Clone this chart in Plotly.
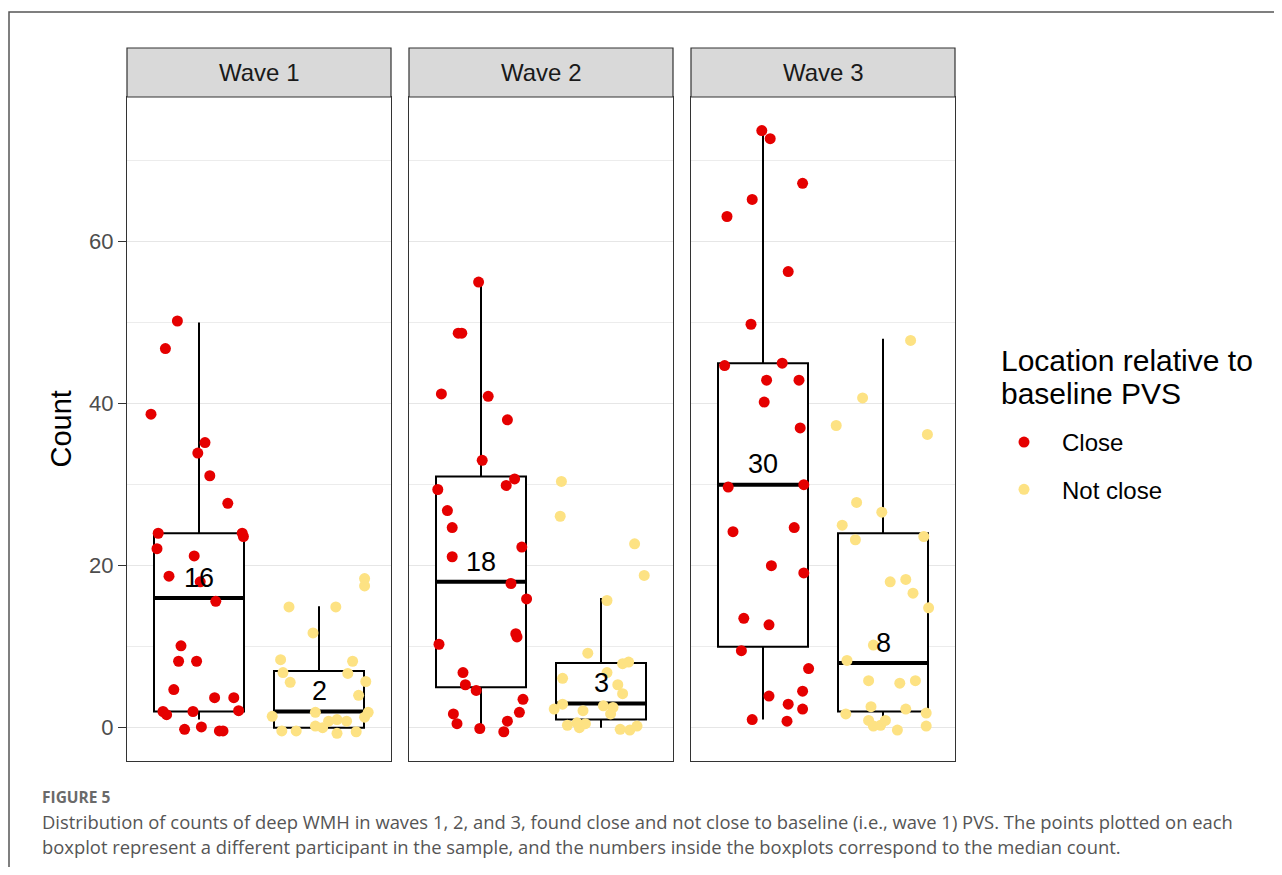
import plotly.graph_objects as go

# ---------------- data ----------------
waves = ["Wave 1", "Wave 2", "Wave 3"]
groups = ["Close", "Not close"]

# plotted (jittered) counts and horizontal jitter per wave / group
w1_close_y = [50.2, 46.8, 38.7, 35.2, 33.9, 31.1, 27.7, 24.0, 24.0, 23.6, 22.1, 21.2, 18.7, 18.0, 15.6,
              10.1, 8.2, 8.2, 4.7, 3.7, 3.7, 2.0, 1.6, 2.0, 2.1, -0.2, 0.1, -0.4, -0.4]
w1_close_dx = [-0.18, -0.28, -0.40, 0.05, -0.01, 0.09, 0.24, -0.34, 0.36, 0.37, -0.35, -0.04, -0.25, 0.01, 0.14,
               -0.15, -0.17, -0.02, -0.21, 0.13, 0.29, -0.30, -0.27, -0.05, 0.33, -0.12, 0.02, 0.17, 0.20]
w1_nc_y = [18.4, 17.5, 14.9, 14.9, 11.7, 8.4, 8.2, 6.8, 6.7, 5.6, 5.7, 4.0, 1.4, 1.9, 1.9, 1.3, 1.0, 0.8,
           0.2, 0.0, -0.4, -0.4, -0.7, -0.5, 0.8]
w1_nc_dx = [0.38, 0.38, -0.25, 0.14, -0.05, -0.32, 0.28, -0.30, 0.24, -0.24, 0.39, 0.33, -0.39, -0.03, 0.41,
            0.38, 0.15, 0.23, -0.03, 0.03, -0.31, -0.19, 0.15, 0.31, 0.08]

w2_close_y = [55.0, 48.7, 48.7, 41.2, 40.9, 38.0, 33.0, 30.7, 29.9, 29.4, 26.8, 24.7, 22.3, 21.1, 17.8,
              15.9, 11.6, 11.2, 10.3, 6.8, 5.3, 4.6, 3.5, 1.9, 1.7, 0.5, -0.1, 0.8, -0.5]
w2_close_dx = [-0.02, -0.19, -0.16, -0.33, 0.06, 0.22, 0.01, 0.28, 0.21, -0.36, -0.28, -0.24, 0.34, -0.24, 0.25,
               0.38, 0.29, 0.30, -0.35, -0.15, -0.13, -0.04, 0.35, 0.32, -0.23, -0.20, -0.01, 0.22, 0.19]
w2_nc_y = [30.4, 26.1, 22.7, 18.8, 15.7, 9.2, 8.1, 7.9, 6.1, 6.8, 5.3, 4.2, 2.9, 2.3, 2.1, 2.7, 2.5, 1.7,
           0.3, 0.0, 0.5, -0.2, -0.3, 0.2, 0.6]
w2_nc_dx = [-0.33, -0.34, 0.28, 0.36, 0.05, -0.11, 0.23, 0.18, -0.32, 0.05, 0.14, 0.18, -0.32, -0.39, -0.15,
            0.02, 0.10, 0.08, -0.28, -0.18, -0.13, 0.16, 0.24, 0.30, -0.20]

w3_close_y = [73.7, 72.7, 67.2, 65.2, 63.1, 56.3, 49.8, 44.7, 45.0, 42.9, 42.9, 40.2, 37.0, 29.7, 30.0,
              24.2, 24.7, 20.0, 19.1, 13.5, 12.7, 9.5, 7.3, 3.9, 4.5, 2.9, 2.3, 1.0, 0.8]
w3_close_dx = [-0.01, 0.06, 0.33, -0.09, -0.30, 0.21, -0.10, -0.32, 0.16, 0.03, 0.30, 0.01, 0.31, -0.29, 0.34,
               -0.25, 0.26, 0.07, 0.34, -0.16, 0.05, -0.18, 0.38, 0.05, 0.33, 0.21, 0.33, -0.09, 0.20]
w3_nc_y = [47.8, 40.7, 37.3, 36.2, 27.8, 26.6, 25.0, 23.2, 23.6, 18.0, 18.3, 16.6, 14.8, 10.2, 8.3, 5.8,
           5.5, 5.8, 2.6, 2.3, 1.7, 1.8, 0.9, 0.2, 0.3, 0.9, -0.3, 0.2]
w3_nc_dx = [0.23, -0.17, -0.39, 0.37, -0.22, -0.01, -0.34, -0.23, 0.34, 0.06, 0.19, 0.25, 0.38, -0.08, -0.30,
            -0.12, 0.14, 0.27, -0.10, 0.19, -0.31, 0.36, -0.12, -0.08, -0.02, 0.02, 0.12, 0.36]

# box statistics [Close, Not close] per wave
box_lower = [[1, 0], [0, 0], [1, 0]]
box_q1 = [[2, 0], [5, 1], [10, 2]]
box_median = [[16, 2], [18, 3], [30, 8]]
box_q3 = [[24, 7], [31, 8], [45, 24]]
box_upper = [[50, 15], [55, 16], [74, 48]]

points_y = [[w1_close_y, w1_nc_y], [w2_close_y, w2_nc_y], [w3_close_y, w3_nc_y]]
points_dx = [[w1_close_dx, w1_nc_dx], [w2_close_dx, w2_nc_dx], [w3_close_dx, w3_nc_dx]]

legend_title = ["Location relative to", "baseline PVS"]
caption_head = "FIGURE 5"
caption_1 = ("Distribution of counts of deep WMH in waves 1, 2, and 3, found close and not close to baseline "
             "(i.e., wave 1) PVS. The points plotted on each")
caption_2 = ("boxplot represent a different participant in the sample, and the numbers inside the boxplots "
             "correspond to the median count.")

# ---------------- styling ----------------
W, H = 1266, 859
OFF = 8  # default body margin of the page


def fx(sx):
    return (sx - OFF) / W


def fy(sy):
    return 1 - (sy - OFF) / H


colors = {"Close": "#e50000", "Not close": "#fde283"}
FONT = "Liberation Sans, Arial, Helvetica, sans-serif"
CAP_FONT = "Open Sans, Lato, sans-serif"
panel_x = [(127, 391), (409, 673), (691, 955)]
panel_top, panel_bot = 97, 760.5
strip_top = 48
BOX_W = 0.75

fig = go.Figure()
annotations = []
shapes = []

for i, wave in enumerate(waves):
    xa = "x" if i == 0 else f"x{i + 1}"
    ya = "y" if i == 0 else f"y{i + 1}"
    for g, grp in enumerate(groups):
        pos = g + 1
        med = box_median[i][g]
        fig.add_trace(go.Box(
            x=[pos], q1=[box_q1[i][g]], median=[med], q3=[box_q3[i][g]],
            lowerfence=[box_lower[i][g]], upperfence=[box_upper[i][g]],
            width=BOX_W, whiskerwidth=0, fillcolor="white",
            line=dict(color="black", width=2), boxpoints=False,
            showlegend=False, hoverinfo="skip", xaxis=xa, yaxis=ya))
        # thicker median bar (ggplot fatten)
        fig.add_trace(go.Scatter(
            x=[pos - BOX_W / 2, pos + BOX_W / 2], y=[med, med], mode="lines",
            line=dict(color="black", width=4), showlegend=False, hoverinfo="skip",
            xaxis=xa, yaxis=ya))
        ys = points_y[i][g]
        xs = [pos + d for d in points_dx[i][g]]
        fig.add_trace(go.Scatter(
            x=xs, y=ys, mode="markers", name=grp, legendgroup=grp,
            showlegend=(i == 0),
            marker=dict(color=colors[grp], size=11, line=dict(width=0)),
            xaxis=xa, yaxis=ya))
        annotations.append(dict(
            x=pos, y=med + 2.5, xref=xa, yref=ya, text=str(med), showarrow=False,
            xanchor="center", yanchor="middle",
            font=dict(size=27, color="black", family=FONT)))

    x0, x1 = panel_x[i]
    axis_num = "" if i == 0 else str(i + 1)
    fig.layout["xaxis" + axis_num] = dict(
        domain=[fx(x0), fx(x1)], range=[0.4, 2.6], showticklabels=False, ticks="",
        showgrid=False, zeroline=False, showline=True, mirror=True,
        linecolor="#333333", linewidth=1.2, anchor=ya, fixedrange=True)
    fig.layout["yaxis" + axis_num] = dict(
        domain=[fy(panel_bot), fy(panel_top)], range=[-4.05, 77.85],
        tick0=0, dtick=20, showgrid=True, gridcolor="#e6e6e6", gridwidth=1.3,
        minor=dict(dtick=10, showgrid=True, gridcolor="#ececec", gridwidth=0.8, ticks=""),
        zeroline=False, showline=True, mirror=True, linecolor="#333333", linewidth=1.2,
        anchor=xa, showticklabels=(i == 0), ticks="outside" if i == 0 else "",
        ticklen=8, tickcolor="#333333", tickwidth=1.2,
        tickfont=dict(size=22, color="#4d4d4d", family=FONT),
        matches=None if i == 0 else "y", fixedrange=True)

    # strip
    shapes.append(dict(type="rect", xref="paper", yref="paper",
                       x0=fx(x0), x1=fx(x1), y0=fy(panel_top), y1=fy(strip_top),
                       fillcolor="#d9d9d9", line=dict(color="#333333", width=1.2)))
    annotations.append(dict(x=fx((x0 + x1) / 2), y=fy((strip_top + panel_top) / 2),
                            xref="paper", yref="paper", text=wave, showarrow=False,
                            xanchor="center", yanchor="middle",
                            font=dict(size=24, color="#1a1a1a", family=FONT)))

fig.layout.yaxis.title = dict(text="Count", font=dict(size=29, color="black", family=FONT), standoff=8)

# legend title (two lines)
for k, (line, sy) in enumerate(zip(legend_title, [360, 394])):
    annotations.append(dict(x=fx(999), y=fy(sy), xref="paper", yref="paper", xanchor="left",
                            yanchor="middle", text=line, showarrow=False,
                            font=dict(size=30, color="black", family=FONT)))

# outer frame of the figure panel
shapes.append(dict(type="rect", xref="paper", yref="paper",
                   x0=fx(9), x1=fx(1320), y0=fy(920), y1=fy(12),
                   line=dict(color="#555555", width=1.5), fillcolor="rgba(0,0,0,0)"))

# caption
annotations.append(dict(x=fx(40), y=fy(797), xref="paper", yref="paper", xanchor="left",
                        yanchor="middle", text="<b>" + caption_head + "</b>", showarrow=False,
                        font=dict(size=15.5, color="#6a6a6a", family=CAP_FONT)))
annotations.append(dict(x=fx(40), y=fy(821), xref="paper", yref="paper", xanchor="left",
                        yanchor="middle", text=caption_1, showarrow=False,
                        font=dict(size=18.4, color="#555555", family=CAP_FONT)))
annotations.append(dict(x=fx(40), y=fy(846), xref="paper", yref="paper", xanchor="left",
                        yanchor="middle", text=caption_2, showarrow=False,
                        font=dict(size=18.4, color="#555555", family=CAP_FONT)))

fig.update_layout(
    width=W, height=H, margin=dict(l=0, r=0, t=0, b=0),
    plot_bgcolor="white", paper_bgcolor="white",
    font=dict(family=FONT),
    annotations=annotations, shapes=shapes,
    legend=dict(x=fx(986), xanchor="left", y=fy(466), yanchor="middle",
                font=dict(size=24, color="black", family=FONT),
                bgcolor="rgba(0,0,0,0)", itemwidth=66, tracegroupgap=13,
                traceorder="grouped"),
)

fig.write_html("out.html")
